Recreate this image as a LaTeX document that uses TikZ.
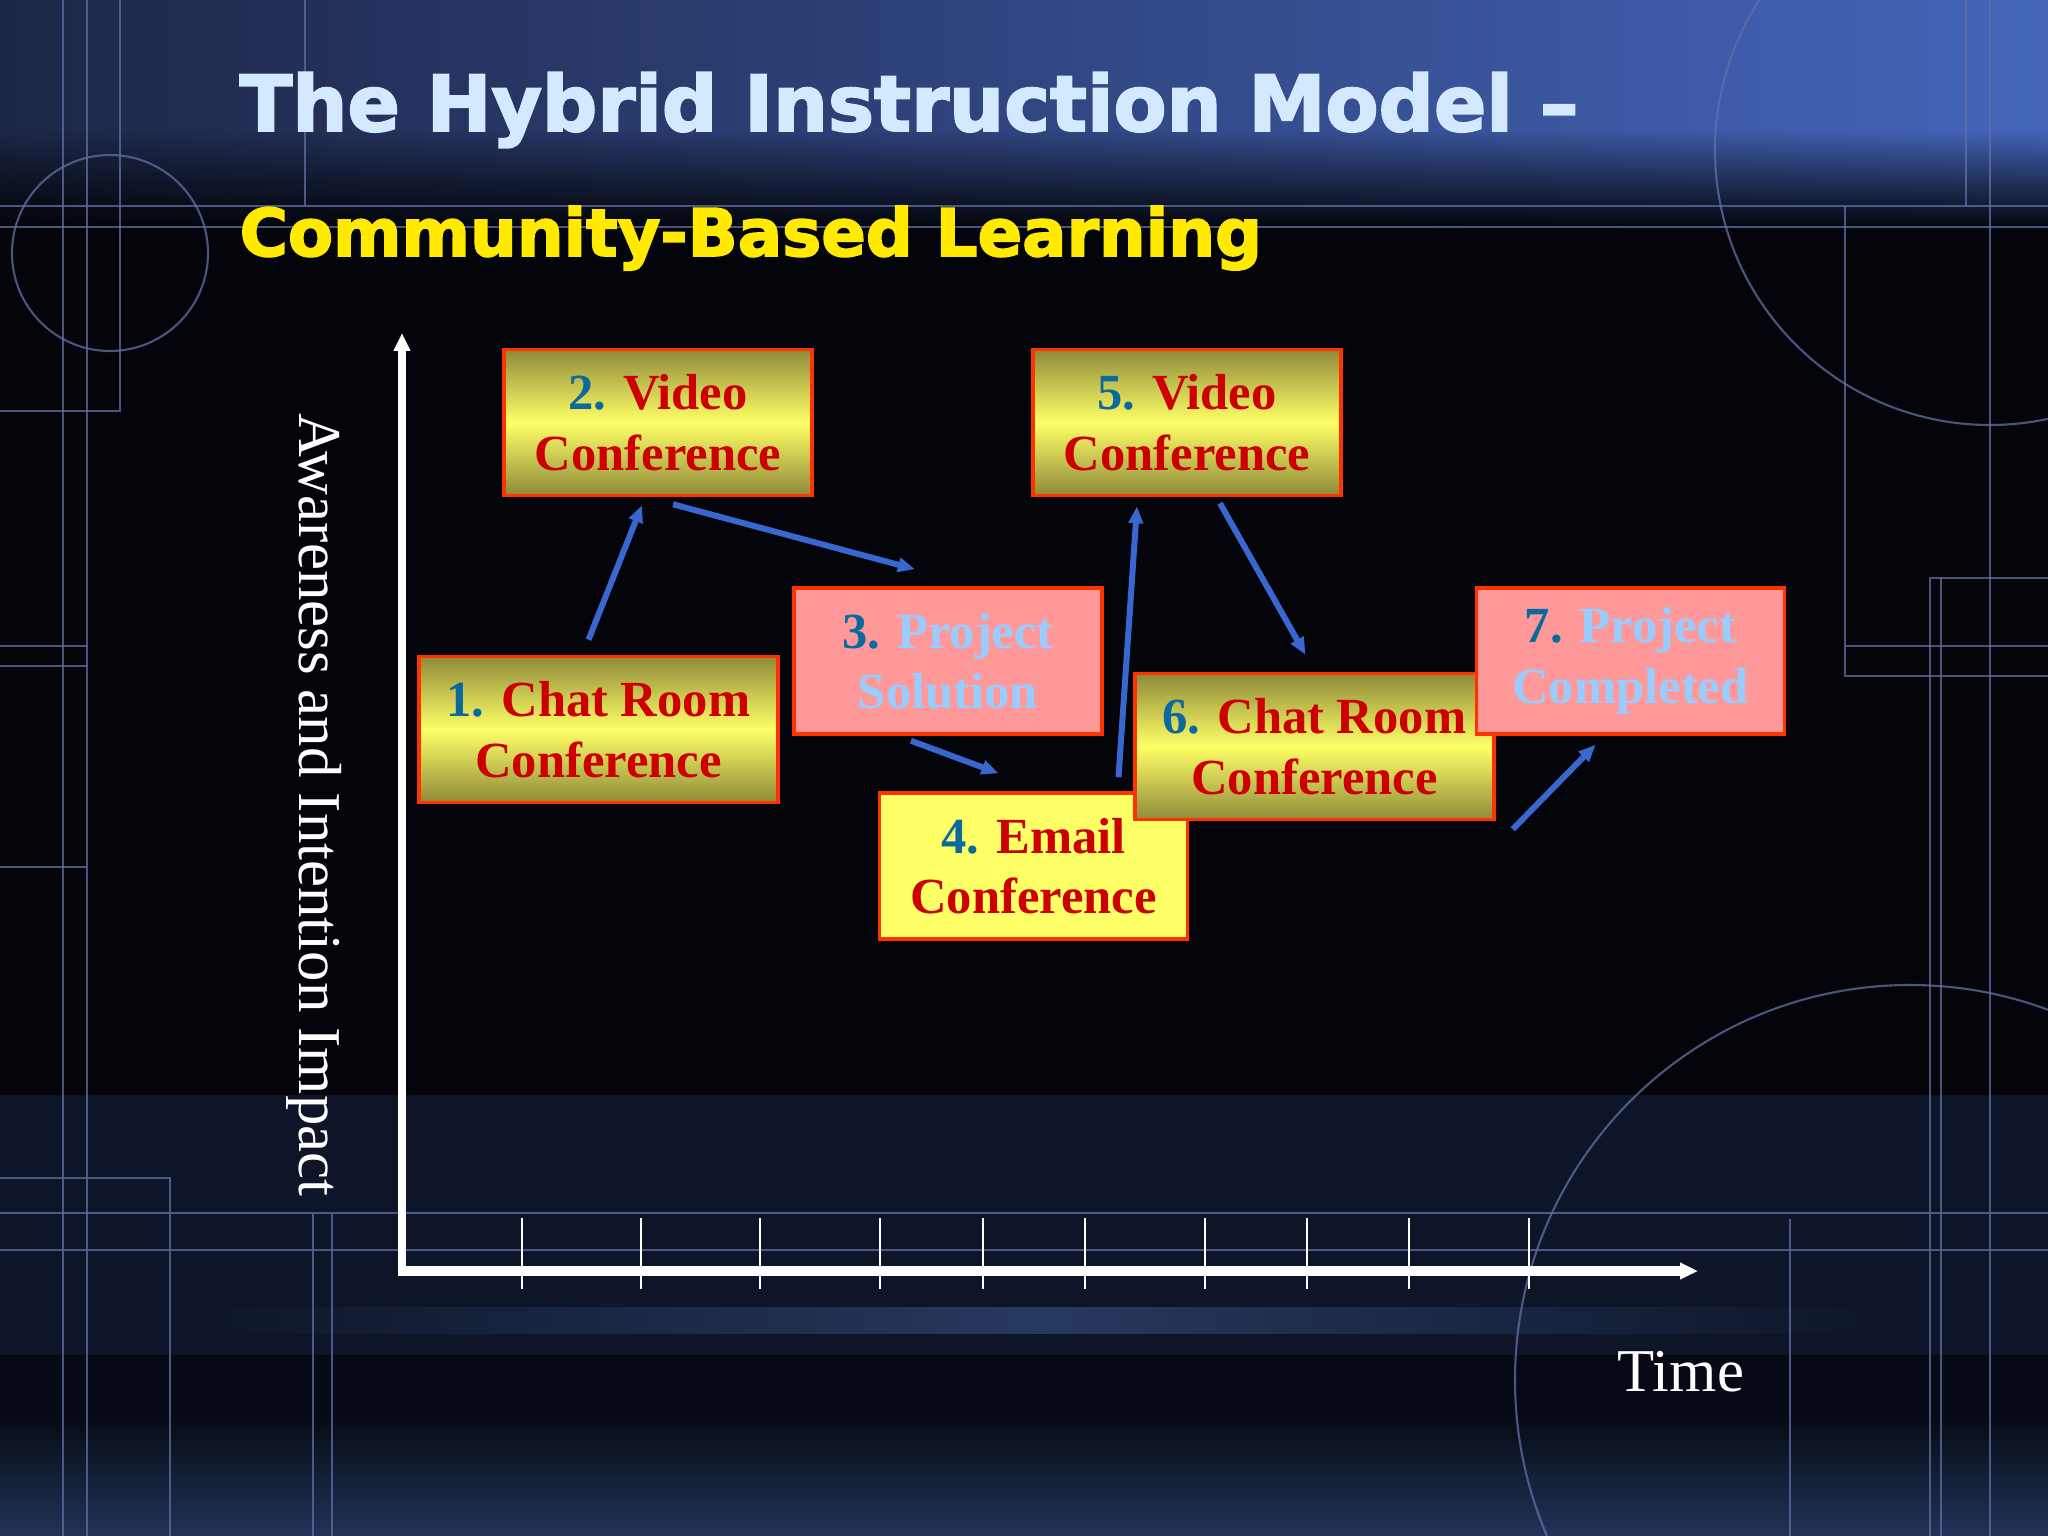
\documentclass[tikz,border=0pt]{standalone}
\usepackage{fontspec}
\setmainfont{Liberation Serif}
\newfontfamily\headfont{DejaVu Sans Bold}[RawFeature={embolden=2.5}]
\usetikzlibrary{arrows.meta,shadings,fadings}

\definecolor{slidebg}{HTML}{03050A}
\definecolor{topleft}{HTML}{1C2646}
\definecolor{topright}{HTML}{4466BB}
\definecolor{lowband}{HTML}{0E1528}
\definecolor{darkband}{HTML}{060A14}
\definecolor{deepblue}{HTML}{213459}
\definecolor{streak}{HTML}{26395F}
\definecolor{gridline}{HTML}{6070A4}
\definecolor{titleblue}{HTML}{D2E9FF}
\definecolor{subyellow}{HTML}{FFEA00}
\definecolor{boxedge}{HTML}{FF3300}
\definecolor{olive}{HTML}{8F8A3A}
\definecolor{lemon}{HTML}{FFFF66}
\definecolor{salmon}{HTML}{FF9999}
\definecolor{numblue}{HTML}{0B6A9C}
\definecolor{wordred}{HTML}{CC0000}
\definecolor{skyblue}{HTML}{99CCFF}
\definecolor{flowblue}{HTML}{3A66D0}

\newcommand{\stagenum}[1]{\textcolor{numblue}{#1}}

\begin{document}
\begin{tikzpicture}[
    grid/.style={gridline, line width=0.6pt, opacity=0.75},
    stagebox/.style={draw=boxedge, line width=1pt, minimum height=1.46cm,
        align=center, inner sep=0pt, font=\fontsize{14.4}{17.2}\selectfont\bfseries},
    goldbox/.style={stagebox, top color=olive, bottom color=olive, middle color=lemon, text=wordred},
    lemonbox/.style={stagebox, fill=lemon, text=wordred},
    pinkbox/.style={stagebox, fill=salmon, text=skyblue},
    narrow/.style={minimum width=3.08cm},
    wide/.style={minimum width=3.59cm},
    flow/.style={flowblue, line width=1.7pt, -{Triangle[length=1.7mm,width=1.4mm]}},
    axis/.style={white, -{Triangle[length=1.8mm,width=1.6mm]}},
    tick/.style={white, line width=0.6pt},
    axislabel/.style={white, font=\fontsize{17.3}{20}\selectfont}
]
    \useasboundingbox (0,0) rectangle (20.48,-15.36);
    \clip (0,0) rectangle (20.48,-15.36);

    % Backdrop
    \fill[slidebg] (0,0) rectangle (20.48,-15.36);
    \fill[left color=topleft, right color=topright] (-0.1,0) rectangle (20.6,-1.3);
    \fill[left color=topleft, right color=topright, path fading=south] (-0.1,-1.3) rectangle (20.6,-2.3);
    \fill[lowband] (0,-10.95) rectangle (20.48,-13.55);
    \fill[left color=lowband, right color=lowband, middle color=streak] (1.9,-13.07) rectangle (18.9,-13.33);
    \fill[darkband] (0,-13.55) rectangle (20.48,-14.15);
    \fill[top color=darkband, bottom color=deepblue] (0,-14.15) rectangle (20.48,-15.36);

    % Grid lines
    \draw[grid] (0,-2.06) -- (20.48,-2.06);
    \draw[grid] (0,-2.27) -- (20.48,-2.27);
    \draw[grid] (0,-12.13) -- (20.48,-12.13);
    \draw[grid] (0,-12.50) -- (20.48,-12.50);
    \draw[grid] (0.63,0) -- (0.63,-15.36);
    \draw[grid] (0.87,0) -- (0.87,-15.36);
    \draw[grid] (19.90,0) -- (19.90,-15.36);
    \draw[grid] (1.20,0) -- (1.20,-4.11) -- (0,-4.11);
    \draw[grid] (3.05,0) -- (3.05,-2.06);
    \draw[grid] (0,-6.46) -- (0.87,-6.46);
    \draw[grid] (0,-6.66) -- (0.87,-6.66);
    \draw[grid] (0,-8.67) -- (0.87,-8.67);
    \draw[grid] (0,-11.78) -- (1.70,-11.78) -- (1.70,-15.36);
    \draw[grid] (3.13,-12.14) -- (3.13,-15.36);
    \draw[grid] (3.32,-12.14) -- (3.32,-15.36);
    \draw[grid] (18.45,-2.06) -- (18.45,-6.76) -- (20.48,-6.76);
    \draw[grid] (18.45,-6.46) -- (20.48,-6.46);
    \draw[grid] (19.66,0) -- (19.66,-2.06);
    \draw[grid] (19.30,-15.36) -- (19.30,-5.78) -- (20.48,-5.78);
    \draw[grid] (19.41,-5.78) -- (19.41,-15.36);
    \draw[grid] (17.90,-12.19) -- (17.90,-15.36);
    \draw[grid] (1.10,-2.53) circle [radius=0.98];
    \draw[grid] (19.90,-1.50) circle [radius=2.75];
    \draw[grid] (19.10,-13.80) circle [radius=3.95];

    % Heading
    \node[anchor=base west, inner sep=0pt, text=titleblue, font=\headfont\fontsize{22}{26}\selectfont]
        (heading) at (2.39,-1.31) {The Hybrid Instruction Model –};
    \node[anchor=base west, inner sep=0pt, text=subyellow, font=\headfont\fontsize{18.7}{22}\selectfont]
        (subheading) at (2.39,-2.56) {Community-Based Learning};

    % Axes
    \coordinate (origin) at (4.02,-12.71);
    \coordinate (ytop) at (4.02,-3.33);
    \coordinate (xend) at (16.98,-12.71);
    \draw[axis, line width=2pt] (origin) -- (ytop);
    \draw[axis, line width=2.6pt] ([xshift=-0.4mm]origin) -- (xend);
    \foreach \x in {5.22,6.41,7.60,8.80,9.83,10.85,12.05,13.07,14.09,15.29}
        \draw[tick] (\x,-12.18) -- (\x,-12.89);

    \node[axislabel, anchor=base] (timelab) at (16.81,-13.91) {Time};
    \node[axislabel, anchor=base, rotate=-90] (impactlab) at (3.00,-8.05) {Awareness and Intention Impact};

    % Stages
    \node[goldbox, wide] (chat1) at (5.985,-7.295) {\stagenum{1.} Chat Room\\Conference};
    \node[goldbox, narrow] (video2) at (6.58,-4.225) {\stagenum{2.} Video\\Conference};
    \node[pinkbox, narrow] (proj3) at (9.48,-6.61) {\stagenum{3.} Project\\Solution};
    \node[lemonbox, narrow] (email4) at (10.335,-8.66) {\stagenum{4.} Email\\Conference};
    \node[goldbox, narrow] (video5) at (11.87,-4.225) {\stagenum{5.} Video\\Conference};
    \node[goldbox, wide] (chat6) at (13.145,-7.465) {\stagenum{6.} Chat Room\\Conference};
    \node[pinkbox, narrow] (proj7) at (16.305,-6.61) {\stagenum{7.} Project\\Completed};

    % Flow between stages
    \draw[flow] ([xshift=-1mm,yshift=1.5mm]chat1.north) -- ([xshift=-1.6mm,yshift=-0.8mm]video2.south);
    \draw[flow] ([xshift=1.5mm,yshift=-0.7mm]video2.south) -- ([xshift=-3.3mm,yshift=1.7mm]proj3.north);
    \draw[flow] ([xshift=-3.7mm,yshift=-0.5mm]proj3.south) -- ([xshift=-3.5mm,yshift=1.8mm]email4.north);
    \draw[flow] ([xshift=8.5mm,yshift=1.4mm]email4.north) -- ([xshift=-5mm,yshift=-0.9mm]video5.south);
    \draw[flow] ([xshift=3.3mm,yshift=-0.6mm]video5.south) -- ([xshift=-0.9mm,yshift=1.7mm]chat6.north);
    \draw[flow] ([xshift=1.7mm,yshift=-0.8mm]chat6.south east) -- ([xshift=-3.5mm,yshift=-0.9mm]proj7.south);
\end{tikzpicture}
\end{document}
